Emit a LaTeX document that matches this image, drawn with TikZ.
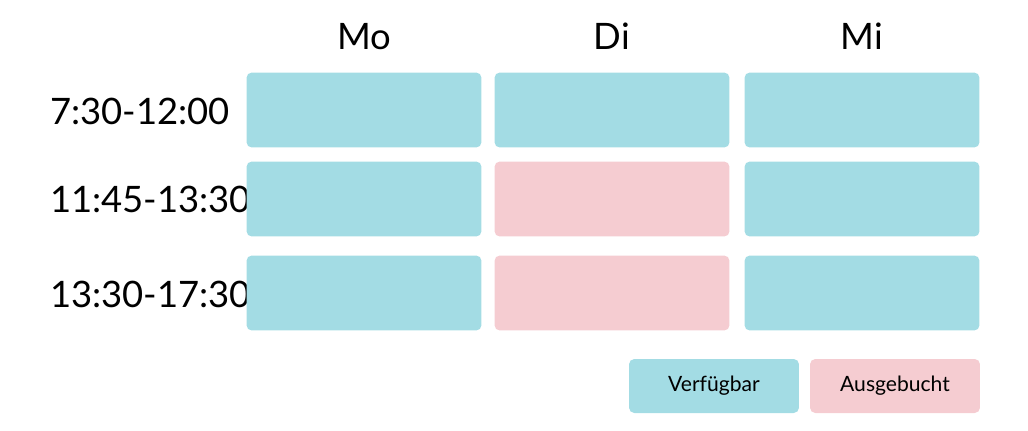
\documentclass[tikz,border=0pt]{standalone}
\usepackage{fontspec}
\setmainfont{Lato}
\definecolor{frei}{HTML}{A3DCE4}
\definecolor{belegt}{HTML}{F5CCD1}
\tikzset{
  slot/.style={rounded corners=3pt, minimum width=4.7cm, minimum height=1.5cm, inner sep=0pt},
  legende/.style={rounded corners=3pt, minimum width=3.4cm, minimum height=1.08cm, inner sep=0pt, font=\large},
  kopf/.style={font=\huge, anchor=base}
}
\begin{document}
\begin{tikzpicture}[x=0.02cm, y=-0.02cm]
  \useasboundingbox (0,0) rectangle (1028,430);
  % Wochentage
  \node[kopf] (mo) at (364,49) {Mo};
  \node[kopf] (di) at (612,49) {Di};
  \node[kopf] (mi) at (862,49) {Mi};
  % Zeiten
  \node[font=\huge, anchor=west] (z1) at (44,111) {7:30-12:00};
  \node[font=\huge, anchor=west] (z2) at (44,199) {11:45-13:30};
  \node[font=\huge, anchor=west] (z3) at (44,294) {13:30-17:30};
  % Felder
  \foreach \y/\r in {110/1, 199/2, 293/3} {
    \node[slot, fill=frei] (mo\r) at (364,\y) {};
    \node[slot, fill=frei] (mi\r) at (862,\y) {};
  }
  \node[slot, fill=frei] (di1) at (612,110) {};
  \node[slot, fill=belegt] (di2) at (612,199) {};
  \node[slot, fill=belegt] (di3) at (612,293) {};
  % Legende
  \node[legende, fill=frei] (verf) at (714,386) {Verfügbar};
  \node[legende, fill=belegt] (ausg) at (895,386) {Ausgebucht};
\end{tikzpicture}
\end{document}
